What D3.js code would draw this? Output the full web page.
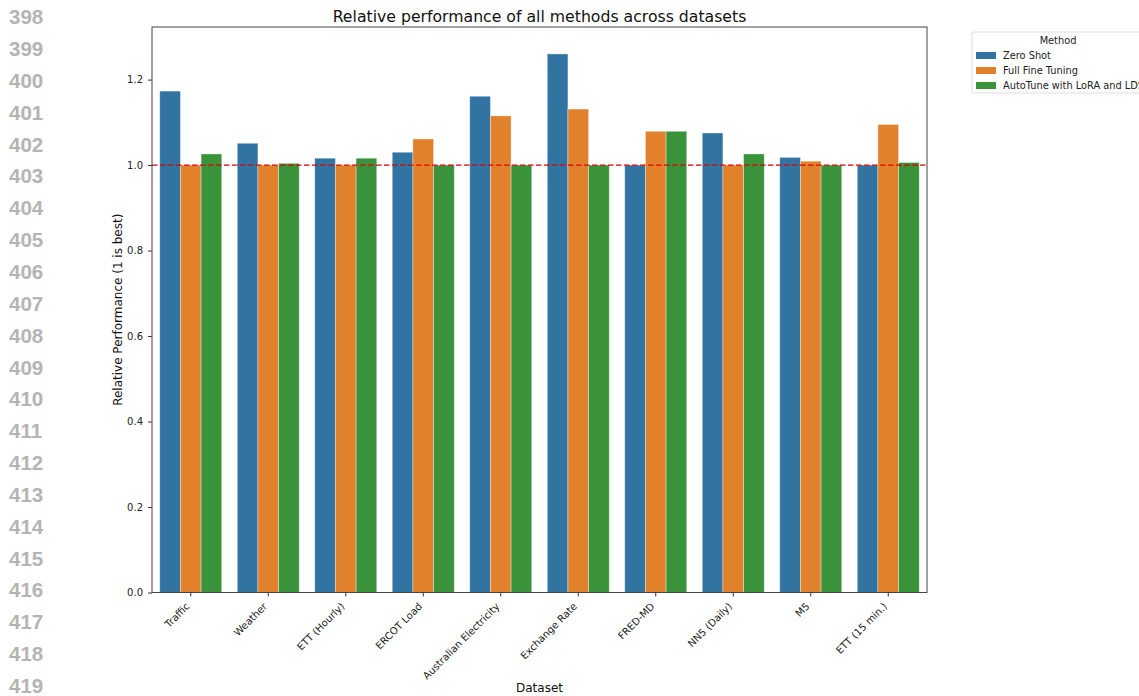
<!DOCTYPE html>
<html>
<head>
<meta charset="utf-8">
<script src="https://cdn.jsdelivr.net/npm/d3@7"></script>
<style>
  body { margin: 0; background: #fff; }
  svg { display: block; }
</style>
</head>
<body>
<svg id="chart" width="1139" height="696"></svg>
<script>
// Datasets and per-method relative scores (1 is best)
const datasets = ["Traffic", "Weather", "ETT (Hourly)", "ERCOT Load", "Australian Electricity",
  "Exchange Rate", "FRED-MD", "NN5 (Daily)", "M5", "ETT (15 min.)"];
const methods = ["Zero Shot", "Full Fine Tuning", "AutoTune with LoRA and LDS"];
const zeroShot = [1.173, 1.051, 1.016, 1.030, 1.161, 1.260, 1.000, 1.075, 1.018, 1.000];
const fullFineTuning = [1.000, 1.000, 1.000, 1.061, 1.115, 1.131, 1.079, 1.000, 1.009, 1.095];
const autoTune = [1.026, 1.004, 1.016, 1.000, 1.000, 1.000, 1.079, 1.026, 1.000, 1.006];
const yTicks = [0.0, 0.2, 0.4, 0.6, 0.8, 1.0, 1.2];
const lineNumbers = d3.range(398, 420);

const colors = ["#3274a1", "#e1812c", "#3a923a"];
const seriesValues = [zeroShot, fullFineTuning, autoTune];

const svg = d3.select("#chart");
const margin = { left: 152, right: 927, top: 27, bottom: 592.5 };

// Margin line numbers
svg.append("g").selectAll("text").data(lineNumbers).join("text")
  .attr("x", 9)
  .attr("y", (d, i) => 17 + i * 31.85)
  .attr("dy", "0.35em")
  .attr("font-family", "Liberation Sans, Arial, sans-serif")
  .attr("font-weight", "bold")
  .attr("font-size", 20.5)
  .attr("fill", "#b4b4b4")
  .text(d => d);

const x = d3.scaleBand().domain(datasets).range([margin.left, margin.right]).paddingInner(0).paddingOuter(0);
const xInner = d3.scaleBand().domain(d3.range(methods.length)).range([0, x.bandwidth() * 0.8]);
const yMax = d3.max(seriesValues.flat()) * 1.05;
const y = d3.scaleLinear().domain([0, yMax]).range([margin.bottom, margin.top]);

const font = "DejaVu Sans, sans-serif";

// Bars
const barData = [];
datasets.forEach((ds, i) => methods.forEach((m, j) => barData.push({ ds, j, v: seriesValues[j][i] })));
svg.append("g").selectAll("rect").data(barData).join("rect")
  .attr("x", d => x(d.ds) + x.bandwidth() * 0.1 + xInner(d.j))
  .attr("y", d => y(d.v))
  .attr("width", xInner.bandwidth())
  .attr("height", d => y(0) - y(d.v))
  .attr("fill", d => colors[d.j])
  .attr("stroke", "rgba(255,255,255,0.45)")
  .attr("stroke-width", 0.8);

// Reference line at 1.0
svg.append("line")
  .attr("x1", margin.left).attr("x2", margin.right)
  .attr("y1", y(1)).attr("y2", y(1))
  .attr("stroke", "#e00000").attr("stroke-width", 1.3)
  .attr("stroke-dasharray", "5.5,2.5");

// Axes
const yAxis = d3.axisLeft(y).tickValues(yTicks).tickFormat(d3.format(".1f")).tickSize(4).tickPadding(5);
const gy = svg.append("g").attr("transform", `translate(${margin.left},0)`).call(yAxis);
gy.select(".domain").remove();
gy.selectAll("text").attr("font-family", font).attr("font-size", 10).attr("fill", "#222");
gy.selectAll("line").attr("stroke", "#333");

const xAxis = d3.axisBottom(x).tickSize(4).tickPadding(4);
const gx = svg.append("g").attr("transform", `translate(0,${margin.bottom})`).call(xAxis);
gx.select(".domain").remove();
gx.selectAll("line").attr("stroke", "#333");
gx.selectAll("text")
  .attr("font-family", font).attr("font-size", 10).attr("fill", "#222")
  .attr("text-anchor", "end")
  .attr("dy", "0.35em")
  .attr("transform", "translate(-3,12) rotate(-45)")
  .attr("y", 0).attr("x", 0);

// Frame
svg.append("rect")
  .attr("x", margin.left).attr("y", margin.top)
  .attr("width", margin.right - margin.left).attr("height", margin.bottom - margin.top)
  .attr("fill", "none").attr("stroke", "#444").attr("stroke-width", 1);

// Title and axis labels
svg.append("text")
  .attr("x", (margin.left + margin.right) / 2).attr("y", 22)
  .attr("text-anchor", "middle").attr("font-family", font).attr("font-size", 15.7).attr("fill", "#111")
  .text("Relative performance of all methods across datasets");
svg.append("text")
  .attr("x", (margin.left + margin.right) / 2).attr("y", 692)
  .attr("text-anchor", "middle").attr("font-family", font).attr("font-size", 12).attr("fill", "#111")
  .text("Dataset");
svg.append("text")
  .attr("transform", `translate(122,${(margin.top + margin.bottom) / 2}) rotate(-90)`)
  .attr("text-anchor", "middle").attr("font-family", font).attr("font-size", 12).attr("fill", "#111")
  .text("Relative Performance (1 is best)");

// Legend
const lg = svg.append("g").attr("transform", "translate(972,32)");
lg.append("rect").attr("x", 0).attr("y", 0).attr("width", 180).attr("height", 61).attr("rx", 2)
  .attr("fill", "#fff").attr("stroke", "#ddd").attr("stroke-width", 1);
lg.append("text").attr("x", 86).attr("y", 12).attr("text-anchor", "middle")
  .attr("font-family", font).attr("font-size", 9.8).attr("fill", "#222").text("Method");
methods.forEach((m, i) => {
  lg.append("rect").attr("x", 4).attr("y", 20 + i * 15).attr("width", 20).attr("height", 7).attr("fill", colors[i]);
  lg.append("text").attr("x", 31).attr("y", 23.5 + i * 15).attr("dy", "0.35em")
    .attr("font-family", font).attr("font-size", 9.8).attr("fill", "#222").text(m);
});
</script>
</body>
</html>
